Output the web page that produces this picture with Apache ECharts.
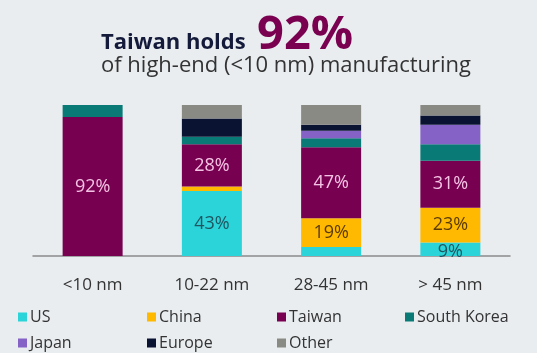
<!DOCTYPE html>
<html><head><meta charset="utf-8">
<script src="https://cdn.jsdelivr.net/npm/echarts@6/dist/echarts.min.js"></script>
<style>html,body{margin:0;padding:0;background:#e9edf0}#c{width:537px;height:353px}</style>
</head><body><div id="c"></div>
<script>
const categories = ['<10 nm', '10-22 nm', '28-45 nm', '> 45 nm'];
const seriesNames = ['US', 'China', 'Taiwan', 'South Korea', 'Japan', 'Europe', 'Other'];
const US = [0, 43, 6, 9];
const China = [0, 3, 19, 23];
const Taiwan = [92, 28, 47, 31];
const SouthKorea = [8, 5, 6, 11];
const Japan = [0, 0, 5, 13];
const Europe = [0, 12, 4, 6];
const Other = [0, 9, 13, 7];
const values = [US, China, Taiwan, SouthKorea, Japan, Europe, Other];
const colors = ['#2bd4d9', '#ffb900', '#780050', '#0a7a77', '#8562c6', '#0b1332', '#8a8a84'];
const labelColors = ['#1e5560', '#5b3b00', '#f3c2e4'];
const labeledSeries = ['US', 'China', 'Taiwan'];
const FONT = 'Open Sans';

const series = seriesNames.map((name, i) => ({
  name, type: 'bar', stack: 'all', barWidth: 60,
  data: values[i].map((v, j) => {
    const d = { value: v };
    if (name === 'US' && j === 3) d.label = { offset: [0, 3] };
    return d;
  }),
  itemStyle: { color: colors[i] },
  label: {
    show: labeledSeries.includes(name),
    position: 'inside',
    fontFamily: FONT, fontSize: 18,
    color: labelColors[labeledSeries.indexOf(name)] || '#fff',
    formatter: p => (p.value >= 9 ? p.value + '%' : '')
  }
}));

const legendCols = [[18, 309], [147, 309], [277, 309], [405, 309], [18, 335], [147, 335], [277, 335]];
const legends = seriesNames.map((n, i) => ({
  data: [n], left: legendCols[i][0], top: legendCols[i][1], padding: 0,
  itemWidth: 9, itemHeight: 9, itemGap: 4, icon: 'rect',
  textStyle: { fontFamily: FONT, fontSize: 16, color: '#333', padding: [0, 0, 0, -2] }
}));

const chart = echarts.init(document.getElementById('c'));
chart.setOption({
  backgroundColor: '#e9edf0',
  animation: false,
  title: [
    { text: '{a|Taiwan holds  }{b|92%}', left: 96, top: 7,
      textStyle: { rich: {
        a: { fontFamily: FONT, fontSize: 22, fontWeight: 'bold', color: '#141a3a', verticalAlign: 'bottom', padding: [0,0,5,0] },
        b: { fontFamily: FONT, fontSize: 47, color: '#7a0050', verticalAlign: 'bottom' } } } },
    { text: 'of high-end (<10 nm) manufacturing', left: 96, top: 50,
      textStyle: { fontFamily: FONT, fontSize: 22, fontWeight: 'normal', color: '#333' } }
  ],
  legend: legends,
  grid: { left: 33, right: 27, top: 105, bottom: 97 },
  xAxis: { type: 'category', data: categories,
    axisLine: { lineStyle: { color: '#8a8a8a', width: 1.5 } },
    axisTick: { show: false },
    axisLabel: { fontFamily: FONT, fontSize: 17, color: '#333', margin: 21 } },
  yAxis: { type: 'value', min: 0, max: 100, show: false },
  series
});
</script></body></html>
